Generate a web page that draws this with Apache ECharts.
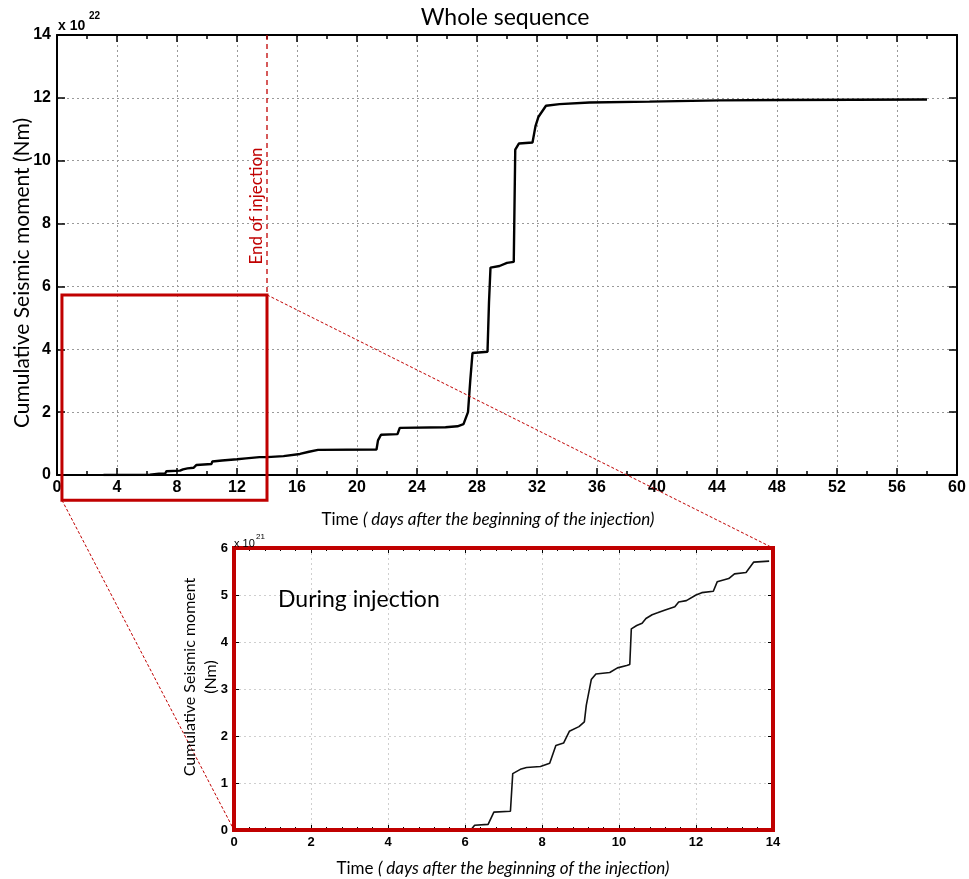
<!DOCTYPE html>
<html><head><meta charset="utf-8">
<script src="https://cdn.jsdelivr.net/npm/echarts@6/dist/echarts.min.js"></script>
<style>html,body{margin:0;padding:0;background:#fff}#c{width:969px;height:879px}</style>
</head><body><div id="c"></div>
<script>
// ---- data: whole sequence (x 10^22 Nm) ----
const wholeDays = [3.1, 6.2, 6.8, 7.2, 7.3, 8.2, 8.4, 8.7, 9.1, 9.3, 10.3, 10.35, 11.0, 12.0, 12.6, 13.5, 14.0, 15.1, 16.2, 16.8, 17.4, 21.3, 21.4, 21.6, 22.7, 22.85, 25.9, 26.7, 27.1, 27.2, 27.4, 27.55, 27.7, 28.7, 28.8, 28.9, 29.5, 30.0, 30.45, 30.55, 30.8, 31.7, 31.9, 32.1, 32.6, 33.5, 35.5, 39.5, 44.2, 48.3, 58.0];
const wholeMoment = [0.0, 0.01, 0.04, 0.04, 0.12, 0.14, 0.18, 0.21, 0.23, 0.32, 0.35, 0.43, 0.46, 0.50, 0.53, 0.57, 0.57, 0.60, 0.67, 0.74, 0.80, 0.81, 1.10, 1.28, 1.30, 1.50, 1.52, 1.55, 1.62, 1.65, 2.0, 3.0, 3.88, 3.92, 5.5, 6.6, 6.65, 6.75, 6.78, 10.35, 10.55, 10.58, 11.1, 11.4, 11.75, 11.8, 11.85, 11.88, 11.92, 11.93, 11.95];
// ---- data: during injection (x 10^21 Nm) ----
const injDays = [3.0, 6.15, 6.25, 6.6, 6.75, 7.18, 7.24, 7.46, 7.6, 7.96, 8.2, 8.36, 8.56, 8.71, 8.96, 9.1, 9.15, 9.28, 9.4, 9.76, 9.96, 10.2, 10.28, 10.32, 10.46, 10.6, 10.7, 10.86, 11.0, 11.2, 11.45, 11.55, 11.75, 12.0, 12.15, 12.45, 12.55, 12.85, 13.0, 13.3, 13.5, 13.9];
const injMoment = [0.0, 0.0, 0.1, 0.12, 0.38, 0.4, 1.2, 1.3, 1.33, 1.35, 1.42, 1.8, 1.85, 2.1, 2.2, 2.3, 2.65, 3.2, 3.32, 3.35, 3.45, 3.5, 3.52, 4.28, 4.35, 4.4, 4.5, 4.58, 4.62, 4.68, 4.75, 4.85, 4.88, 5.0, 5.05, 5.08, 5.28, 5.35, 5.45, 5.48, 5.7, 5.72];
// ---- axes ----
const wholeXRange = [0, 60, 4];
const wholeYRange = [0, 14, 2];
const injXRange = [0, 14, 2];
const injYRange = [0, 6, 1];
// ---- annotations ----
const endInjectionX = [14, 14];
const endInjectionY = [14, 5.73];
const zoomBoxX = [0.33, 14];
const zoomBoxY = [-0.8, 5.73];

const RED = '#c00000';
const tickFont = {fontFamily: 'Liberation Sans', fontWeight: 'bold', color: '#000'};

function pairs(xs, ys) { return xs.map((x, i) => [x, ys[i]]); }

const chart = echarts.init(document.getElementById('c'), null, {renderer: 'canvas'});

function xAx(grid, r, pos, showLabel) {
  const inset = grid === 1;
  return {
    type: 'value', gridIndex: grid, position: pos, min: r[0], max: r[1], interval: r[2],
    axisLine: {show: !inset, onZero: false, lineStyle: {color: '#000', width: 2}},
    axisTick: {show: true, inside: true, length: inset ? 5 : 7, lineStyle: {color: '#000', width: inset ? 1 : 1.5}},
    minorTick: {show: true, splitNumber: inset ? 5 : 2, length: inset ? 3 : 4, lineStyle: {color: '#000', width: inset ? 1 : 1.5}},
    axisLabel: {show: showLabel, ...tickFont, fontSize: inset ? 13 : 16, margin: inset ? 6 : 5},
    splitLine: {show: showLabel, lineStyle: {type: [2, 3], color: inset ? '#cfcfcf' : '#9a9a9a', width: 1}},
    minorSplitLine: {show: false}
  };
}
function yAx(grid, r, pos, showLabel) {
  const inset = grid === 1;
  return {
    type: 'value', gridIndex: grid, position: pos, min: r[0], max: r[1], interval: r[2],
    axisLine: {show: !inset, onZero: false, lineStyle: {color: '#000', width: 2}},
    axisTick: {show: true, inside: true, length: inset ? 5 : 8, lineStyle: {color: '#000', width: inset ? 1 : 1.5}},
    axisLabel: {show: showLabel, ...tickFont, fontSize: inset ? 13 : 16, margin: 6},
    splitLine: {show: showLabel, lineStyle: {type: [2, 3], color: inset ? '#cfcfcf' : '#9a9a9a', width: 1}}
  };
}

const option = {
  animation: false,
  backgroundColor: '#fff',
  grid: [
    {left: 57, top: 35, width: 900, height: 440, show: false},
    {left: 234, top: 548, width: 539, height: 282, show: true, borderColor: RED, borderWidth: 4, backgroundColor: 'transparent', z: 5}
  ],
  xAxis: [
    xAx(0, wholeXRange, 'bottom', true),
    xAx(0, wholeXRange, 'top', false),
    xAx(1, injXRange, 'bottom', true),
    xAx(1, injXRange, 'top', false)
  ],
  yAxis: [
    yAx(0, wholeYRange, 'left', true),
    yAx(0, wholeYRange, 'right', false),
    yAx(1, injYRange, 'left', true),
    yAx(1, injYRange, 'right', false)
  ],
  series: [
    {type: 'line', xAxisIndex: 0, yAxisIndex: 0, data: pairs(wholeDays, wholeMoment), showSymbol: false,
     lineStyle: {color: '#000', width: 2.4}, z: 3},
    {type: 'line', xAxisIndex: 0, yAxisIndex: 0, data: pairs(endInjectionX, endInjectionY), showSymbol: false,
     lineStyle: {color: RED, width: 1.3, type: [5, 4]}, z: 2},
    {type: 'line', xAxisIndex: 2, yAxisIndex: 2, data: pairs(injDays, injMoment), showSymbol: false,
     lineStyle: {color: '#111', width: 1.6}, z: 3}
  ]
};
chart.setOption(option);

const p0 = pt => chart.convertToPixel({gridIndex: 0}, pt);
const p1 = pt => chart.convertToPixel({gridIndex: 1}, pt);
const boxTL = p0([zoomBoxX[0], zoomBoxY[1]]);
const boxBR = p0([zoomBoxX[1], zoomBoxY[0]]);
const insTL = p1([injXRange[0], injYRange[1]]);
const insBR = p1([injXRange[1], injYRange[0]]);

const xTitle = '{n|Time }{i|( days after the beginning of the injection)}';
const xTitleRich = {n: {font: '17px Lato', fill: '#000'}, i: {font: 'italic 17px Lato', fill: '#000'}};

chart.setOption({
  graphic: [
    {type: 'rect', z: 10, shape: {x: boxTL[0], y: boxTL[1], width: boxBR[0] - boxTL[0], height: boxBR[1] - boxTL[1]},
     style: {fill: null, stroke: RED, lineWidth: 3}},
    {type: 'line', z: 9, shape: {x1: boxBR[0], y1: boxTL[1], x2: insBR[0], y2: insTL[1]},
     style: {stroke: RED, lineWidth: 1, lineDash: [3, 2]}},
    {type: 'line', z: 9, shape: {x1: boxTL[0], y1: boxBR[1], x2: insTL[0], y2: insBR[1]},
     style: {stroke: RED, lineWidth: 1, lineDash: [3, 2]}},
    {type: 'text', z: 10, x: 505, y: 18, style: {text: 'Whole sequence', font: '23px Lato', fill: '#000', align: 'center', verticalAlign: 'middle'}},
    {type: 'text', z: 10, x: 58, y: 26, style: {text: 'x 10', font: 'bold 14px "Liberation Sans"', fill: '#000', align: 'left', verticalAlign: 'middle'}},
    {type: 'text', z: 10, x: 89, y: 16, style: {text: '22', font: 'bold 10px "Liberation Sans"', fill: '#000', align: 'left', verticalAlign: 'middle'}},
    {type: 'text', z: 10, x: 22, y: 273, rotation: Math.PI / 2,
     style: {text: 'Cumulative Seismic moment (Nm)', font: '21px Lato', fill: '#000', align: 'center', verticalAlign: 'middle'}},
    {type: 'text', z: 10, x: 488, y: 520, style: {text: xTitle, align: 'center', verticalAlign: 'middle', rich: xTitleRich}},
    {type: 'text', z: 10, x: 257, y: 206, rotation: Math.PI / 2,
     style: {text: 'End of injection', font: '17px Lato', fill: RED, align: 'center', verticalAlign: 'middle'}},
    {type: 'text', z: 10, x: 278, y: 600, style: {text: 'During injection', font: '23px Lato', fill: '#000', align: 'left', verticalAlign: 'middle'}},
    {type: 'text', z: 10, x: 200, y: 677, rotation: Math.PI / 2,
     style: {text: 'Cumulative Seismic moment\n(Nm)', font: '16px Lato', lineHeight: 21, fill: '#000', align: 'center', verticalAlign: 'middle'}},
    {type: 'text', z: 10, x: 234, y: 544, style: {text: 'x 10', font: '11px "Liberation Sans"', fill: '#000', align: 'left', verticalAlign: 'middle'}},
    {type: 'text', z: 10, x: 256, y: 537, style: {text: '21', font: '8px "Liberation Sans"', fill: '#000', align: 'left', verticalAlign: 'middle'}},
    {type: 'text', z: 10, x: 503, y: 869, style: {text: xTitle, align: 'center', verticalAlign: 'middle', rich: xTitleRich}}
  ]
});
</script></body></html>
